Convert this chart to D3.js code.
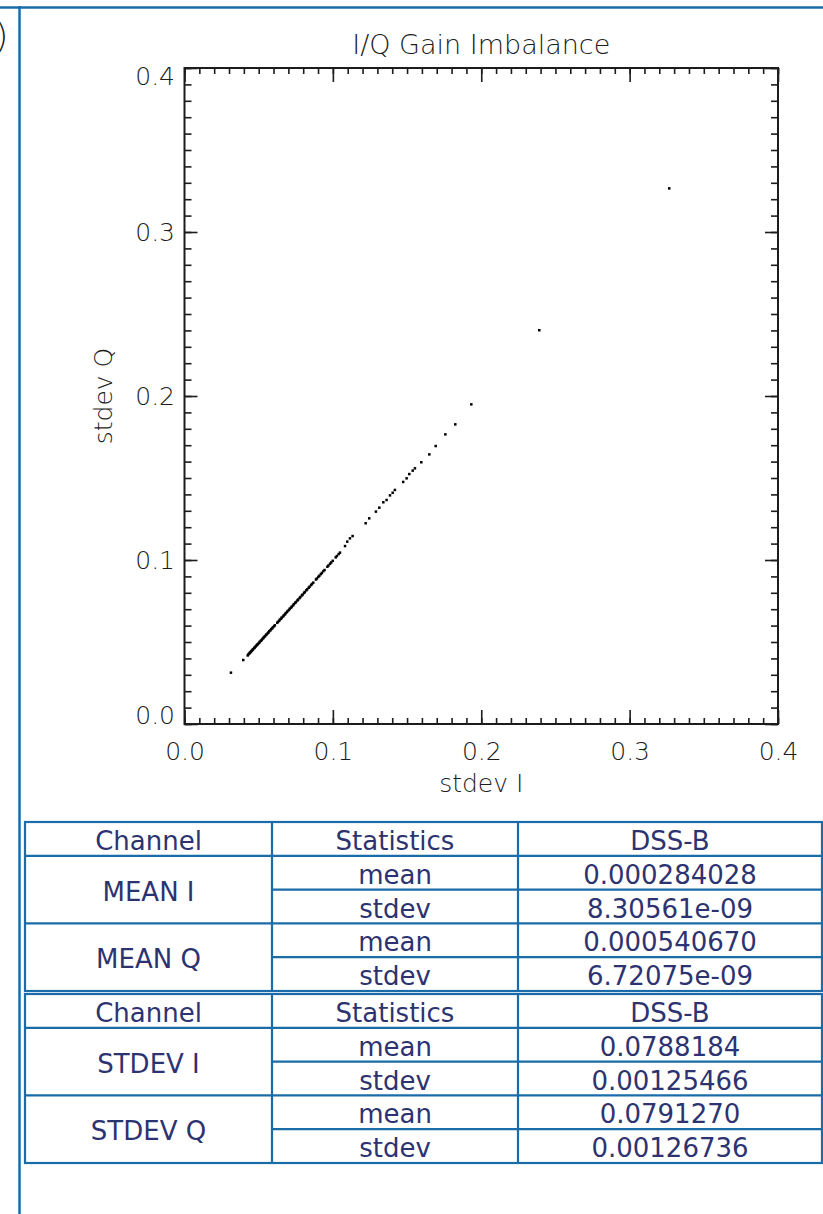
<!DOCTYPE html>
<html>
<head>
<meta charset="utf-8">
<script src="https://cdn.jsdelivr.net/npm/d3@7"></script>
<style>
  body { margin: 0; background: #fff; }
  svg { display: block; }
</style>
</head>
<body>
<div id="chart"></div>
<script>
// 散点数据 (从图上读出的 stdev I / stdev Q)
var stdevI = [
    0.0313, 0.0396,
    0.0426, 0.0430, 0.0436, 0.0440, 0.0445, 0.0449, 0.0454, 0.0459, 0.0463, 0.0469,
    0.0473, 0.0478, 0.0483, 0.0489, 0.0493, 0.0499, 0.0504, 0.0508, 0.0515, 0.0520,
    0.0525, 0.0532, 0.0536, 0.0543, 0.0549, 0.0553, 0.0561, 0.0566, 0.0571, 0.0579,
    0.0584, 0.0591, 0.0596, 0.0604, 0.0609,
    0.0625, 0.0630, 0.0638, 0.0643, 0.0651, 0.0655, 0.0664, 0.0669, 0.0677, 0.0682,
    0.0690, 0.0695, 0.0704, 0.0709, 0.0718, 0.0723, 0.0732, 0.0737, 0.0746, 0.0751,
    0.0761, 0.0766, 0.0776, 0.0781, 0.0791, 0.0796, 0.0806, 0.0811, 0.0821, 0.0827,
    0.0837, 0.0843, 0.0853, 0.0859, 0.0868,
    0.0886, 0.0892, 0.0902, 0.0909, 0.0919, 0.0926, 0.0936, 0.0944,
    0.0963, 0.0970, 0.0981, 0.0989, 0.0999,
    0.1019, 0.1027, 0.1039, 0.1048,
    0.1082, 0.1097, 0.1115, 0.1133, 0.1221, 0.1245, 0.1290, 0.1313, 0.1340, 0.1362,
    0.1385, 0.1403, 0.1418, 0.1474, 0.1497, 0.1515, 0.1538, 0.1553, 0.1596, 0.1650,
    0.1693, 0.1758, 0.1825, 0.1933, 0.2391, 0.3267
];
var stdevQ = [
    0.0313, 0.0390,
    0.0418, 0.0424, 0.0429, 0.0434, 0.0438, 0.0443, 0.0447, 0.0453, 0.0456, 0.0463,
    0.0466, 0.0471, 0.0477, 0.0482, 0.0486, 0.0492, 0.0496, 0.0502, 0.0508, 0.0512,
    0.0519, 0.0524, 0.0531, 0.0535, 0.0543, 0.0546, 0.0554, 0.0558, 0.0566, 0.0571,
    0.0578, 0.0583, 0.0590, 0.0596, 0.0602,
    0.0617, 0.0623, 0.0629, 0.0637, 0.0642, 0.0649, 0.0655, 0.0662, 0.0668, 0.0676,
    0.0682, 0.0689, 0.0695, 0.0703, 0.0709, 0.0716, 0.0723, 0.0731, 0.0738, 0.0744,
    0.0753, 0.0759, 0.0768, 0.0774, 0.0784, 0.0789, 0.0799, 0.0805, 0.0815, 0.0821,
    0.0831, 0.0837, 0.0847, 0.0854, 0.0862,
    0.0881, 0.0887, 0.0897, 0.0904, 0.0914, 0.0921, 0.0932, 0.0939,
    0.0959, 0.0966, 0.0977, 0.0985, 0.0995,
    0.1016, 0.1024, 0.1036, 0.1045,
    0.1085, 0.1112, 0.1132, 0.1146, 0.1224, 0.1254, 0.1295, 0.1319, 0.1352, 0.1366,
    0.1394, 0.1410, 0.1427, 0.1476, 0.1498, 0.1524, 0.1545, 0.1559, 0.1596, 0.1644,
    0.1695, 0.1766, 0.1827, 0.1949, 0.2401, 0.3266
];

var xTicks = [0, 0.1, 0.2, 0.3, 0.4];
var yTicks = [0, 0.1, 0.2, 0.3, 0.4];

// 表格数据
var headers = ["Channel", "Statistics", "DSS-B"];
var statNames = ["mean", "stdev"];
var channelsA = ["MEAN I", "MEAN Q"];
var valuesA = [["0.000284028", "8.30561e-09"], ["0.000540670", "6.72075e-09"]];
var channelsB = ["STDEV I", "STDEV Q"];
var valuesB = [["0.0788184", "0.00125466"], ["0.0791270", "0.00126736"]];

// 画布
var width = 823, height = 1214;
var plot = { left: 184.5, right: 778, top: 68, bottom: 724 };
var blue = "#1a6ca8", ink = "#1c1c1c", navy = "#2d3370";
var plotFont = "'DejaVu Sans', sans-serif";

var xScale = d3.scaleLinear().domain([0, 0.4]).range([plot.left, plot.right]);
var yScale = d3.scaleLinear().domain([0, 0.4]).range([plot.bottom, plot.top]);

var svg = d3.select("#chart").append("svg")
    .attr("width", width)
    .attr("height", height);

// 页面边框线
svg.append("line")
    .attr("x1", 0).attr("x2", width).attr("y1", 7.5).attr("y2", 7.5)
    .attr("stroke", blue).attr("stroke-width", 2.5);
svg.append("line")
    .attr("x1", 19.5).attr("x2", 19.5).attr("y1", 6).attr("y2", height)
    .attr("stroke", blue).attr("stroke-width", 2.5);

// 左边被裁掉的 "(b)"
svg.append("text")
    .attr("x", -5).attr("y", 48)
    .attr("font-family", plotFont).attr("font-weight", 200)
    .attr("font-size", 34).attr("fill", ink)
    .text(")");

// 刻度 (四边都有，朝内)
var minorTicks = d3.range(0, 0.4001, 0.01);
function ticks(axisFn, scale, vals, size) {
    return axisFn(scale).tickValues(vals).tickSize(size).tickFormat("");
}
function styleTicks(g) {
    g.select(".domain").remove();
    g.selectAll(".tick line").attr("stroke", ink).attr("stroke-width", 1.6);
}
[[minorTicks, 6], [xTicks, 14]].forEach(function (t) {
    svg.append("g").attr("transform", "translate(0," + plot.bottom + ")")
        .call(ticks(d3.axisTop, xScale, t[0], t[1])).call(styleTicks);
    svg.append("g").attr("transform", "translate(0," + plot.top + ")")
        .call(ticks(d3.axisBottom, xScale, t[0], t[1])).call(styleTicks);
});
[[minorTicks, 7], [yTicks, 13]].forEach(function (t) {
    svg.append("g").attr("transform", "translate(" + plot.left + ",0)")
        .call(ticks(d3.axisRight, yScale, t[0], t[1])).call(styleTicks);
    svg.append("g").attr("transform", "translate(" + plot.right + ",0)")
        .call(ticks(d3.axisLeft, yScale, t[0], t[1])).call(styleTicks);
});

// 边框
svg.append("rect")
    .attr("x", plot.left).attr("y", plot.top)
    .attr("width", plot.right - plot.left).attr("height", plot.bottom - plot.top)
    .attr("fill", "none").attr("stroke", ink).attr("stroke-width", 2);

// 刻度文字
var xLab = svg.append("g")
    .attr("transform", "translate(0," + plot.bottom + ")")
    .call(d3.axisBottom(xScale).tickValues(xTicks).tickSize(0).tickPadding(18).tickFormat(d3.format(".1f")));
var yLab = svg.append("g")
    .attr("transform", "translate(" + (plot.left - 0.5) + ",0)")
    .call(d3.axisLeft(yScale).tickValues(yTicks).tickSize(0).tickPadding(9).tickFormat(d3.format(".1f")));
[xLab, yLab].forEach(function (g) {
    g.select(".domain").remove();
    g.attr("font-family", plotFont).attr("font-size", 25).attr("font-weight", 200);
    g.selectAll("text").attr("fill", ink);
});
// 两端的 y 标签稍微往里挪
yLab.selectAll(".tick text")
    .attr("y", function (d) { return d === 0.4 ? 8 : (d === 0 ? -9 : 0); });

// 散点
svg.append("g").selectAll("rect")
    .data(stdevI)
    .enter()
    .append("rect")
    .attr("x", function (d) { return xScale(d) - 1.25; })
    .attr("y", function (d, i) { return yScale(stdevQ[i]) - 1.25; })
    .attr("width", 2.5)
    .attr("height", 2.5)
    .attr("fill", "#000");

// 标题和轴标题
svg.append("text")
    .attr("x", (plot.left + plot.right) / 2).attr("y", 54)
    .attr("text-anchor", "middle")
    .attr("font-family", plotFont).attr("font-weight", 200)
    .attr("font-size", 27).attr("fill", ink)
    .text("I/Q Gain Imbalance");
svg.append("text")
    .attr("x", (plot.left + plot.right) / 2).attr("y", 792)
    .attr("text-anchor", "middle")
    .attr("font-family", plotFont).attr("font-weight", 200)
    .attr("font-size", 25).attr("fill", ink)
    .text("stdev I");
svg.append("text")
    .attr("transform", "translate(112," + yScale(0.2) + ") rotate(-90)")
    .attr("text-anchor", "middle")
    .attr("font-family", plotFont).attr("font-weight", 200)
    .attr("font-size", 25).attr("fill", ink)
    .text("stdev Q");

// 表格
var tbl = { left: 25, right: 822, cols: [25, 272, 518, 822], rowH: 33.8 };
var colCenter = [0, 1, 2].map(function (i) { return (tbl.cols[i] + tbl.cols[i + 1]) / 2; });

function drawTable(top, channels, values) {
    var g = svg.append("g");
    var rows = 1 + channels.length * statNames.length;
    var bottom = top + rows * tbl.rowH;

    function hline(y, x1) {
        g.append("line").attr("x1", x1).attr("x2", tbl.right).attr("y1", y).attr("y2", y)
            .attr("stroke", blue).attr("stroke-width", 2.2);
    }
    function cell(text, col, y) {
        g.append("text")
            .attr("x", colCenter[col]).attr("y", y + 2)
            .attr("text-anchor", "middle").attr("dominant-baseline", "central")
            .attr("font-family", "'DejaVu Sans', Verdana, sans-serif")
            .attr("font-size", 26).attr("fill", navy)
            .text(text);
    }

    headers.forEach(function (h, i) { cell(h, i, top + tbl.rowH / 2); });
    hline(top + tbl.rowH, tbl.left);

    channels.forEach(function (ch, c) {
        var y0 = top + tbl.rowH * (1 + c * statNames.length);
        cell(ch, 0, y0 + tbl.rowH * statNames.length / 2);
        statNames.forEach(function (s, k) {
            var yc = y0 + tbl.rowH * (k + 0.5);
            cell(s, 1, yc);
            cell(values[c][k], 2, yc);
            if (k > 0) hline(y0 + tbl.rowH * k, tbl.cols[1]);
        });
        if (c > 0) hline(y0, tbl.left);
    });

    tbl.cols.slice(1, 3).forEach(function (x) {
        g.append("line").attr("x1", x).attr("x2", x).attr("y1", top).attr("y2", bottom)
            .attr("stroke", blue).attr("stroke-width", 2.2);
    });
    g.append("rect")
        .attr("x", tbl.left).attr("y", top)
        .attr("width", tbl.right - tbl.left).attr("height", bottom - top)
        .attr("fill", "none").attr("stroke", blue).attr("stroke-width", 2.2);
    return bottom;
}

var endA = drawTable(822, channelsA, valuesA);
drawTable(endA + 3, channelsB, valuesB);
</script>
</body>
</html>
